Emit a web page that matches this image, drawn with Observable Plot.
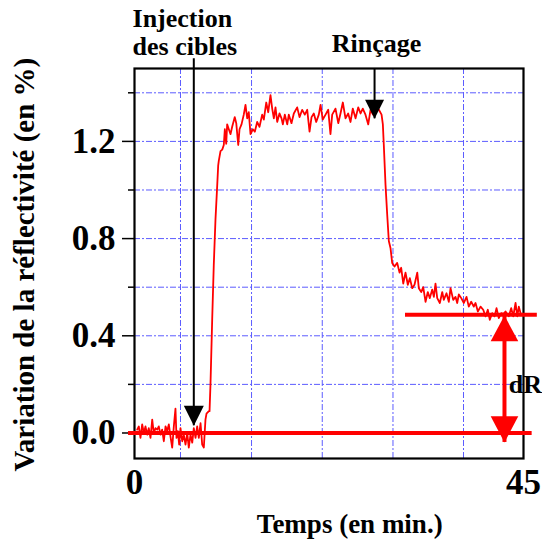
<!DOCTYPE html>
<html>
<head>
<meta charset="utf-8">
<script src="https://cdn.jsdelivr.net/npm/d3@7"></script>
<script src="https://cdn.jsdelivr.net/npm/@observablehq/plot@0.6"></script>
<style>
  html, body { margin: 0; padding: 0; background: #fff; }
  #chart { width: 542px; height: 542px; overflow: hidden; }
</style>
</head>
<body>
<div id="chart"></div>
<script>
// --- data ---
const time = [0.31,0.50,0.69,0.89,1.08,1.27,1.47,1.65,1.85,2.05,2.23,2.43,2.63,2.81,3.01,3.20,3.39,3.59,3.78,3.97,4.16,4.36,4.55,4.74,4.86,5.01,5.17,5.32,5.52,5.70,5.90,6.10,6.28,6.48,6.68,6.86,7.06,7.25,7.44,7.64,7.83,8.02,8.21,8.33,8.60,8.68,8.79,8.99,9.17,9.37,9.57,9.68,9.75,9.95,10.15,10.33,10.45,10.61,10.72,10.91,11.11,11.30,11.60,11.77,12.00,12.15,12.38,12.64,12.84,13.04,13.22,13.42,13.69,13.92,14.19,14.46,14.77,14.96,15.24,15.47,15.73,15.93,16.12,16.31,16.51,16.77,17.01,17.16,17.39,17.67,17.85,18.16,18.43,18.82,19.09,19.40,19.70,19.98,20.25,20.48,20.74,21.02,21.32,21.52,21.78,22.10,22.41,22.67,22.87,23.25,23.57,23.83,24.10,24.41,24.72,24.99,25.25,25.57,25.88,26.15,26.41,26.72,27.04,27.30,27.59,27.88,28.27,28.58,28.73,28.84,29.04,29.23,29.42,29.62,29.81,30.08,30.39,30.66,30.85,31.09,31.35,31.62,31.85,32.13,32.39,32.71,32.89,33.17,33.40,33.67,33.93,34.16,34.44,34.63,34.82,35.02,35.32,35.60,35.78,36.09,36.36,36.56,36.87,37.14,37.33,37.52,37.80,38.10,38.41,38.67,38.95,39.25,39.45,39.72,40.03,40.34,40.61,40.87,41.10,41.38,41.65,41.88,42.14,42.42,42.69,42.92,43.30,43.58,43.81,44.08,44.28,44.46,44.66];
const reflectivity = [0.014,0.027,-0.02,0.035,0.0,0.027,-0.007,0.02,-0.02,0.055,0.0,0.02,0.014,0.027,-0.007,0.014,-0.034,0.027,0.008,0.035,-0.014,-0.06,0.027,0.10,-0.02,0.008,-0.048,0.02,-0.034,-0.007,-0.048,0.0,-0.06,-0.007,-0.04,0.02,-0.02,0.027,-0.02,0.04,-0.048,-0.06,0.055,0.08,0.09,0.09,0.20,0.47,0.69,0.88,1.02,1.10,1.12,1.16,1.166,1.185,1.25,1.19,1.27,1.25,1.23,1.26,1.30,1.275,1.185,1.25,1.27,1.31,1.35,1.295,1.32,1.23,1.25,1.24,1.28,1.26,1.31,1.29,1.36,1.32,1.39,1.335,1.295,1.34,1.28,1.315,1.295,1.27,1.31,1.27,1.31,1.275,1.315,1.34,1.30,1.33,1.31,1.33,1.24,1.30,1.315,1.28,1.31,1.35,1.29,1.31,1.33,1.23,1.31,1.335,1.275,1.315,1.36,1.295,1.315,1.28,1.335,1.295,1.34,1.315,1.335,1.31,1.27,1.33,1.31,1.34,1.33,1.31,1.27,1.185,1.02,0.90,0.79,0.76,0.70,0.685,0.70,0.66,0.68,0.615,0.66,0.61,0.637,0.596,0.61,0.66,0.596,0.58,0.60,0.54,0.58,0.555,0.59,0.56,0.615,0.555,0.535,0.58,0.548,0.575,0.54,0.596,0.548,0.56,0.535,0.57,0.555,0.535,0.56,0.52,0.54,0.52,0.535,0.50,0.52,0.507,0.48,0.507,0.466,0.493,0.48,0.514,0.473,0.493,0.49,0.50,0.48,0.514,0.48,0.535,0.48,0.52,0.493];

const yMajorTicks = [0, 0.4, 0.8, 1.2];
const yMinorTicks = [0.2, 0.6, 1.0, 1.4];
const xTickLabels = [0, 45];
const gridY = [0.2, 0.4, 0.6, 0.8, 1.0, 1.2, 1.4];
const gridX = [5.32, 13.54, 21.72, 29.9, 38.06];

// annotation values (time in min, reflectivity in %)
const injection = {label: "Injection\ndes cibles", t: 6.86, from: 1.54, to: 0.03, textT: -0.23, textV: 1.555};
const rincage = {label: "Rinçage", t: 27.77, from: 1.5, to: 1.293, textT: 28.0, textV: 1.567};
const baseline = {v: 0, t1: -0.69, t2: 46.0};
const plateau = {v: 0.487, t1: 31.35, t2: 46.6};
const dR = {label: "dR", t: 42.8, top: 0.483, bottom: -0.039, textT: 43.3, textV: 0.163};
const xLabel = {label: "Temps (en min.)", t: 24.9, v: -0.41};
const yLabel = {label: "Variation de la réflectivité (en %)", t: -12.67, v: 0.693};

const row = (o) => [o];
const data = time.map((t, i) => ({t, v: reflectivity[i]}));

// arrowhead symbol with its tip at the origin
function tipSymbol(dir, ratio) {
  return {
    draw(ctx, size) {
      const r = Math.sqrt(size / Math.PI);
      const h = r * ratio * dir;
      ctx.moveTo(0, 0);
      ctx.lineTo(-r, -h);
      ctx.lineTo(r, -h);
      ctx.closePath();
    }
  };
}
const tipDown = (ratio) => tipSymbol(1, ratio);
const tipUp = (ratio) => tipSymbol(-1, ratio);

const serif = "'Liberation Serif', 'Times New Roman', 'DejaVu Serif', serif";
const gridStyle = {stroke: "#5c5cff", strokeWidth: 1, strokeDasharray: "6,2,2,2"};

const chart = Plot.plot({
  width: 542,
  height: 542,
  marginLeft: 134,
  marginRight: 19,
  marginTop: 68,
  marginBottom: 84,
  x: {domain: [0, 45], axis: null},
  y: {domain: [-0.105, 1.5], axis: null},
  style: {fontFamily: serif, fontWeight: "bold", background: "white", overflow: "visible", color: "black"},
  marks: [
    Plot.ruleY(gridY, gridStyle),
    Plot.ruleX(gridX, gridStyle),
    Plot.frame({stroke: "black", strokeWidth: 2.2}),
    Plot.axisY({ticks: yMajorTicks, tickSize: 12, tickPadding: 7, tickFormat: d3.format(".1f"), fontSize: 35, strokeWidth: 1.5, label: null}),
    Plot.axisY({ticks: yMinorTicks, tickSize: 6, tickFormat: () => "", strokeWidth: 1.5, label: null}),
    Plot.axisX({ticks: xTickLabels, tickSize: 0, tickPadding: 11, tickFormat: d3.format("d"), fontSize: 35, label: null}),
    Plot.line(data, {x: "t", y: "v", stroke: "#ff0000", strokeWidth: 1.8}),
    Plot.ruleY(row(baseline), {y: "v", x1: "t1", x2: "t2", stroke: "#ff0000", strokeWidth: 4}),
    Plot.ruleY(row(plateau), {y: "v", x1: "t1", x2: "t2", stroke: "#ff0000", strokeWidth: 4}),
    Plot.ruleX(row(dR), {x: "t", y1: "top", y2: "bottom", stroke: "#ff0000", strokeWidth: 4}),
    Plot.dot(row(dR), {x: "t", y: "top", r: 13.8, symbol: tipUp(1.85), fill: "#ff0000", stroke: "none"}),
    Plot.dot(row(dR), {x: "t", y: "bottom", r: 13.8, symbol: tipDown(1.9), fill: "#ff0000", stroke: "none"}),
    Plot.text(row(dR), {x: "textT", y: "textV", text: "label", fontSize: 26, textAnchor: "start", lineAnchor: "bottom", fill: "black"}),
    Plot.ruleX([injection, rincage], {x: "t", y1: "from", y2: "to", stroke: "black", strokeWidth: 2}),
    Plot.dot(row(injection), {x: "t", y: "to", r: 10, symbol: tipDown(2), fill: "black", stroke: "none"}),
    Plot.dot(row(rincage), {x: "t", y: "to", r: 9.5, symbol: tipDown(2), fill: "black", stroke: "none"}),
    Plot.text(row(injection), {x: "textT", y: "textV", text: "label", fontSize: 26, lineHeight: 1.08, textAnchor: "start", lineAnchor: "bottom", fill: "black"}),
    Plot.text(row(rincage), {x: "textT", y: "textV", text: "label", fontSize: 26, textAnchor: "middle", lineAnchor: "bottom", fill: "black"}),
    Plot.text(row(xLabel), {x: "t", y: "v", text: "label", fontSize: 27, textAnchor: "middle", lineAnchor: "bottom", fill: "black"}),
    Plot.text(row(yLabel), {x: "t", y: "v", text: "label", fontSize: 29, rotate: -90, textAnchor: "middle", lineAnchor: "middle", fill: "black"})
  ]
});
document.getElementById("chart").appendChild(chart);
</script>
</body>
</html>
